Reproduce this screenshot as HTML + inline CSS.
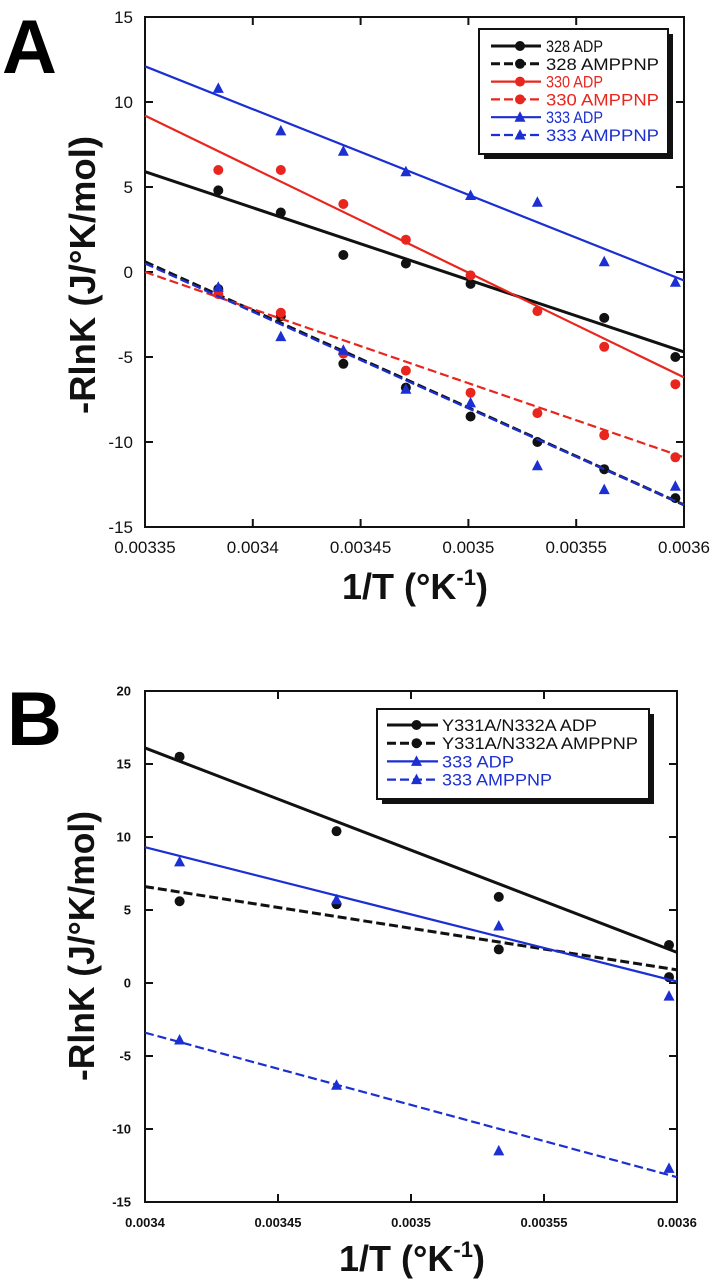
<!DOCTYPE html>
<html><head><meta charset="utf-8">
<style>
html,body{margin:0;padding:0;background:#fff;}
svg{display:block;font-family:"Liberation Sans",sans-serif;}
</style></head>
<body>
<svg id="fig" width="715" height="1280" viewBox="0 0 715 1280">
  <text x="2" y="73" font-size="76" font-weight="bold">A</text>
  <text x="7" y="745" font-size="76" font-weight="bold">B</text>
  <g id="chartA"></g>
  <g id="chartB"></g>
</svg>
<script>
// ---- Panel A data ----
const xA = [0.003384, 0.003413, 0.003442, 0.003471, 0.003501, 0.003532, 0.003563, 0.003596];
const a328adp = [4.8, 3.5, 1.0, 0.5, -0.7, null, -2.7, -5.0];
const a328amp = [-1.0, -2.6, -5.4, -6.8, -8.5, -10.0, -11.6, -13.3];
const a330adp = [6.0, 6.0, 4.0, 1.9, -0.2, -2.3, -4.4, -6.6];
const a330amp = [-1.3, -2.4, -4.8, -5.8, -7.1, -8.3, -9.6, -10.9];
const a333adp = [10.8, 8.3, 7.1, 5.9, 4.5, 4.1, 0.6, -0.6];
const a333amp = [-0.9, -3.8, -4.6, -6.9, -7.7, -11.4, -12.8, -12.6];
const fitXA = [0.00335, 0.0036];
const fitA328adp = [5.9, -4.7];
const fitA328amp = [0.6, -13.7];
const fitA330adp = [9.2, -6.2];
const fitA330amp = [0.0, -10.9];
const fitA333adp = [12.1, -0.5];
const fitA333amp = [0.5, -13.7];
const xTicksA = [0.00335, 0.0034, 0.00345, 0.0035, 0.00355, 0.0036];
const xTickLabelsA = ["0.00335", "0.0034", "0.00345", "0.0035", "0.00355", "0.0036"];
const yTicksA = [-15, -10, -5, 0, 5, 10, 15];
const legendA = ["328 ADP", "328 AMPPNP", "330 ADP", "330 AMPPNP", "333 ADP", "333 AMPPNP"];

// ---- Panel B data ----
const xB = [0.003413, 0.003472, 0.003533, 0.003597];
const bVadp = [15.5, 10.4, 5.9, 2.6];
const bVamp = [5.6, 5.4, 2.3, 0.4];
const b333adp = [8.3, 5.7, 3.9, -0.9];
const b333amp = [-3.9, -7.0, -11.5, -12.7];
const fitXB = [0.0034, 0.0036];
const fitBVadp = [16.1, 2.1];
const fitBVamp = [6.6, 0.9];
const fitB333adp = [9.3, 0.1];
const fitB333amp = [-3.4, -13.3];
const xTicksB = [0.0034, 0.00345, 0.0035, 0.00355, 0.0036];
const xTickLabelsB = ["0.0034", "0.00345", "0.0035", "0.00355", "0.0036"];
const yTicksB = [-15, -10, -5, 0, 5, 10, 15, 20];
const legendB = ["Y331A/N332A ADP", "Y331A/N332A AMPPNP", "333 ADP", "333 AMPPNP"];

const NS = "http://www.w3.org/2000/svg";
const BLACK = "#111", RED = "#e8261e", BLUE = "#1b2fd2";
function mk(parent, tag, attrs) {
  const e = document.createElementNS(NS, tag);
  for (const k in attrs) e.setAttribute(k, attrs[k]);
  parent.appendChild(e);
  return e;
}
function marker(g, shape, cx, cy, color, name) {
  let m;
  if (shape === "circle") {
    m = mk(g, "circle", {cx: cx, cy: cy, r: 5, fill: color});
  } else {
    m = mk(g, "polygon", {points: `${cx},${cy-6} ${cx-5.5},${cy+4.5} ${cx+5.5},${cy+4.5}`, fill: color});
  }
  
  
}

function drawPanel(g, cfg) {
  const sx = v => cfg.x0 + (v - cfg.xmin) / (cfg.xmax - cfg.xmin) * (cfg.x1 - cfg.x0);
  const sy = v => cfg.y1 - (v - cfg.ymin) / (cfg.ymax - cfg.ymin) * (cfg.y1 - cfg.y0);
  // frame
  const fr = mk(g, "rect", {x: cfg.x0, y: cfg.y0, width: cfg.x1 - cfg.x0, height: cfg.y1 - cfg.y0, fill: "none", stroke: BLACK, "stroke-width": 2});
  
  
  // x ticks
  cfg.xTicks.forEach((t, i) => {
    const x = sx(t);
    mk(g, "line", {x1: x, x2: x, y1: cfg.y1, y2: cfg.y1 - 8, stroke: BLACK, "stroke-width": 2});
    mk(g, "line", {x1: x, x2: x, y1: cfg.y0, y2: cfg.y0 + 8, stroke: BLACK, "stroke-width": 2});
    const tl = mk(g, "text", {x: x, y: cfg.xLabY, "text-anchor": "middle", "font-size": cfg.tickFs, "font-weight": cfg.tickFw, fill: BLACK});
    tl.textContent = cfg.xTickLabels[i];
    
    
  });
  cfg.yTicks.forEach(t => {
    const y = sy(t);
    mk(g, "line", {x1: cfg.x0, x2: cfg.x0 + 8, y1: y, y2: y, stroke: BLACK, "stroke-width": 2});
    mk(g, "line", {x1: cfg.x1, x2: cfg.x1 - 8, y1: y, y2: y, stroke: BLACK, "stroke-width": 2});
    const tl = mk(g, "text", {x: cfg.yLabX, y: y + cfg.tickFs * 0.36, "text-anchor": "end", "font-size": cfg.tickFs, "font-weight": cfg.tickFw, fill: BLACK});
    tl.textContent = String(t);
    
    
  });
  // series
  cfg.series.forEach(s => {
    const sg = mk(g, "g", {});
    
    
    const fl = mk(sg, "line", {x1: sx(cfg.fitX[0]), y1: sy(s.fit[0]), x2: sx(cfg.fitX[1]), y2: sy(s.fit[1]), stroke: s.color, "stroke-width": s.color === BLACK ? 3 : 2.2});
    if (s.dash) fl.setAttribute("stroke-dasharray", "9,4");
    
    
    s.ys.forEach((v, i) => {
      if (v === null) return;
      marker(sg, s.shape, sx(cfg.xs[i]), sy(v), s.color, 'data-point');
    });
  });
  // legend
  const L = cfg.legend;
  const lg = mk(g, "g", {});
  
  
  mk(lg, "rect", {x: L.x + 5, y: L.y + 5, width: L.w, height: L.h, fill: BLACK});
  mk(lg, "rect", {x: L.x, y: L.y, width: L.w, height: L.h, fill: "#fff", stroke: BLACK, "stroke-width": 2});
  cfg.series.forEach((s, i) => {
    const y = L.rowY + i * L.step;
    const eg = mk(lg, "g", {});
    
    
    const ln = mk(eg, "line", {x1: L.lx0, x2: L.lx1, y1: y, y2: y, stroke: s.color, "stroke-width": s.color === BLACK ? 3 : 2.2});
    if (s.dash) ln.setAttribute("stroke-dasharray", "9,4");
    marker(eg, s.shape, (L.lx0 + L.lx1) / 2 + 4, y, s.color, 'legend-marker');
    const t = mk(eg, "text", {x: L.tx, y: y + 6, "font-size": L.fs, fill: s.color, textLength: L.lens[i], lengthAdjust: "spacingAndGlyphs"});
    t.textContent = cfg.legendLabels[i];
    
    
  });
  // axis titles
  const yt = mk(g, "text", {x: 0, y: 0, transform: `translate(${cfg.yTitleX},${cfg.yTitleY}) rotate(-90)`, "text-anchor": "middle", "font-size": 36, "font-weight": "bold", fill: BLACK, textLength: cfg.yTitleLen, lengthAdjust: "spacingAndGlyphs"});
  yt.textContent = "-RlnK (J/°K/mol)";
  
  
  const xt = mk(g, "text", {x: cfg.xTitleX, y: cfg.xTitleY, "text-anchor": "middle", "font-size": 36, "font-weight": "bold", fill: BLACK});
  xt.textContent = "1/T (°K";
  const sup = mk(xt, "tspan", {"font-size": 22, dy: -14});
  sup.textContent = "-1";
  const cl = mk(xt, "tspan", {dy: 14});
  cl.textContent = ")";
  
  
}

drawPanel(document.getElementById("chartA"), {
  x0: 145, x1: 684, y0: 17, y1: 527,
  xmin: 0.00335, xmax: 0.0036, ymin: -15, ymax: 15,
  xTicks: xTicksA, xTickLabels: xTickLabelsA, yTicks: yTicksA,
  xLabY: 553, yLabX: 133, tickFs: 17, tickFw: "normal",
  xs: xA, fitX: fitXA,
  series: [
    {name: "series-328-adp", ys: a328adp, fit: fitA328adp, color: BLACK, dash: false, shape: "circle"},
    {name: "series-328-amppnp", ys: a328amp, fit: fitA328amp, color: BLACK, dash: true, shape: "circle"},
    {name: "series-330-adp", ys: a330adp, fit: fitA330adp, color: RED, dash: false, shape: "circle"},
    {name: "series-330-amppnp", ys: a330amp, fit: fitA330amp, color: RED, dash: true, shape: "circle"},
    {name: "series-333-adp", ys: a333adp, fit: fitA333adp, color: BLUE, dash: false, shape: "tri"},
    {name: "series-333-amppnp", ys: a333amp, fit: fitA333amp, color: BLUE, dash: true, shape: "tri"}
  ],
  legendLabels: legendA,
  legend: {x: 479, y: 29, w: 189, h: 125, rowY: 46, step: 17.8, lx0: 491, lx1: 541, tx: 546, fs: 17, lens: [57, 113, 57, 113, 57, 113]},
  yTitleX: 95, yTitleY: 275, yTitleLen: 278,
  xTitleX: 415, xTitleY: 599
});

drawPanel(document.getElementById("chartB"), {
  x0: 145, x1: 677, y0: 691, y1: 1202,
  xmin: 0.0034, xmax: 0.0036, ymin: -15, ymax: 20,
  xTicks: xTicksB, xTickLabels: xTickLabelsB, yTicks: yTicksB,
  xLabY: 1227, yLabX: 131, tickFs: 13, tickFw: "bold",
  xs: xB, fitX: fitXB,
  series: [
    {name: "series-y331a-n332a-adp", ys: bVadp, fit: fitBVadp, color: BLACK, dash: false, shape: "circle"},
    {name: "series-y331a-n332a-amppnp", ys: bVamp, fit: fitBVamp, color: BLACK, dash: true, shape: "circle"},
    {name: "series-333-adp", ys: b333adp, fit: fitB333adp, color: BLUE, dash: false, shape: "tri"},
    {name: "series-333-amppnp", ys: b333amp, fit: fitB333amp, color: BLUE, dash: true, shape: "tri"}
  ],
  legendLabels: legendB,
  legend: {x: 377, y: 709, w: 272, h: 90, rowY: 725, step: 18.2, lx0: 387, lx1: 438, tx: 442, fs: 17, lens: [155, 196, 72, 110]},
  yTitleX: 94, yTitleY: 946, yTitleLen: 270,
  xTitleX: 412, xTitleY: 1271
});
</script>
</body></html>
